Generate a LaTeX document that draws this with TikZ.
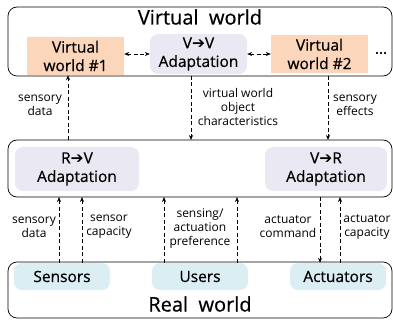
\documentclass[tikz,border=0pt]{standalone}
\usepackage{fontspec}
\setmainfont{Open Sans}
\newfontfamily\symfont{DejaVu Sans}
\newfontfamily\semifont{Open Sans}[FakeBold=0.6]
\usetikzlibrary{arrows.meta}
\definecolor{vwfill}{HTML}{FBD6BB}
\definecolor{adfill}{HTML}{EAE8F2}
\definecolor{rwfill}{HTML}{DAEEF3}
\newcommand{\ar}{{\symfont ➔}}

\begin{document}
\begin{tikzpicture}[x=1pt, y=-1pt,
    world/.style={draw, rounded corners=9pt, line width=0.7pt},
    vbox/.style={fill=vwfill, minimum width=97pt, minimum height=38pt, align=center, font=\semifont\fontsize{15.5}{18.5}\selectfont},
    adbox/.style={fill=adfill, rounded corners=8pt, minimum width=97pt, minimum height=36pt, align=center, font=\semifont\fontsize{15.5}{18.5}\selectfont},
    rbox/.style={fill=rwfill, rounded corners=8pt, minimum width=96pt, minimum height=27pt, font=\semifont\fontsize{15.5}{18.5}\selectfont},
    lbl/.style={align=center, font=\fontsize{12}{14}\selectfont, inner sep=0pt},
    flow/.style={densely dashed, dash pattern=on 4pt off 2.5pt, line width=0.6pt, -{Stealth[length=5pt,width=4pt]}}]
  \useasboundingbox (0,0) rectangle (393,320);
  % the three layers
  \draw[world] (8,7) rectangle (392,76);
  \draw[world] (8,140) rectangle (392,197);
  \draw[world] (8,262) rectangle (392,318);
  \node[font=\semifont\fontsize{20}{23}\selectfont] (vwtitle) at (200,17) {Virtual\ \ world};
  \node[font=\semifont\fontsize{20}{23}\selectfont] (rwtitle) at (200,304) {Real\ \ world};
  % virtual world
  \node[vbox] (vw1) at (75.5,56) {Virtual\\world \#1};
  \node[adbox] (vv) at (198.5,54) {V\ar V\\Adaptation};
  \node[vbox] (vw2) at (319.5,54) {Virtual\\world \#2};
  \node[font=\semifont\fontsize{15}{18}\selectfont] (dots) at (381,53) {...};
  \draw[flow, {Stealth[length=5pt,width=4pt]}-{Stealth[length=5pt,width=4pt]}] (vw1.east |- 0,54) -- (vv.west |- 0,54);
  \draw[flow, {Stealth[length=5pt,width=4pt]}-{Stealth[length=5pt,width=4pt]}] (vv.east |- 0,54) -- (vw2.west |- 0,54);
  % adaptation engines
  \node[adbox, minimum width=124pt, minimum height=44pt] (rv) at (77,169) {R\ar V\\Adaptation};
  \node[adbox, minimum width=122pt, minimum height=44pt] (vr) at (326,169) {V\ar R\\Adaptation};
  % real world
  \node[rbox] (sens) at (62,276.5) {Sensors};
  \node[rbox] (users) at (200,276.5) {Users};
  \node[rbox] (act) at (338,276.5) {Actuators};
  % upper flows
  \draw[flow] (68,140) -- (vw1.south -| 68,0);
  \draw[flow] (191,76) -- (191,140);
  \draw[flow] (328,76) -- (328,140);
  \node[lbl] (l1) at (40,105) {sensory\\data};
  \node[lbl] (l2) at (238,107) {virtual world\\object\\characteristics};
  \node[lbl] (l3) at (355,105) {sensory\\effects};
  % lower flows
  \draw[flow] (sens.north -| 59,0) -- (59,197);
  \draw[flow] (sens.north -| 82,0) -- (82,197);
  \draw[flow] (users.north -| 164,0) -- (164,197);
  \draw[flow] (users.north -| 237,0) -- (237,197);
  \draw[flow] (320,197) -- (act.north -| 320,0);
  \draw[flow] (act.north -| 340,0) -- (340,197);
  \node[lbl] (l4) at (34,227) {sensory\\data};
  \node[lbl] (l5) at (109,227) {sensor\\capacity};
  \node[lbl] (l6) at (200,229) {sensing/\\actuation\\preference};
  \node[lbl] (l7) at (288,227) {actuator\\command};
  \node[lbl] (l8) at (367,227) {actuator\\capacity};
\end{tikzpicture}
\end{document}
